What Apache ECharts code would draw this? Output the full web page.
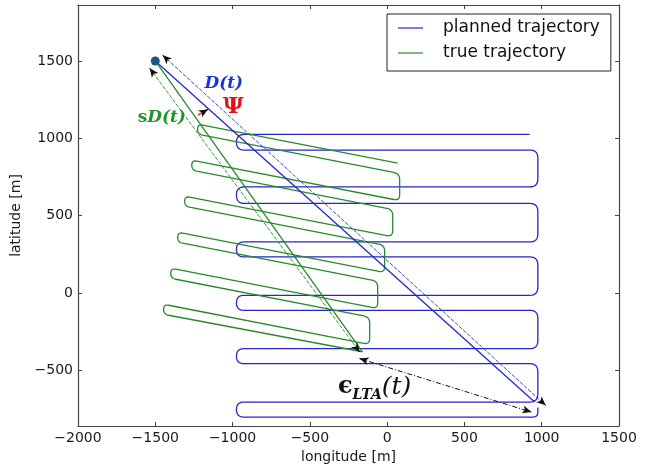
<!DOCTYPE html>
<html><head><meta charset="utf-8">
<script src="https://cdn.jsdelivr.net/npm/echarts@6/dist/echarts.min.js"></script>
<style>html,body{margin:0;padding:0;background:#fff}#c{width:652px;height:473px}</style>
</head><body><div id="c"></div>
<script>
// ---- data (metres) ----
const xTicks = [-2000, -1500, -1000, -500, 0, 500, 1000, 1500];
const yTicks = [-500, 0, 500, 1000, 1500];
const plannedX = [922, -975, -975, 975, 975, -975, -975, 975, 975, -975, -975, 975, 975, -975, -975, 975, 975, -975, -975, 975, 975, -975, -975, 975, 975];
const plannedY = [1025, 1025, 924, 924, 686, 686, 579, 579, 330, 330, 233, 233, -15, -15, -112, -112, -360, -360, -457, -457, -705, -705, -802, -802, -740];
const trueX = [68, -1226, -1226, 81, 81, -1264, -1264, 36, 36, -1310, -1310, -16, -16, -1355, -1355, -61, -61, -1400, -1400, -113, -113, -1446, -1446, -160];
const trueY = [840, 1092, 1027, 772, 597, 859, 794, 540, 364, 626, 561, 309, 132, 393, 328, 76, -101, 160, 95, -156, -333, -73, -138, -380];
const startPoint = [-1500, 1500];
const plannedNow = [954, -705];
const trueNow = [-160, -380];
const arrowD = [[-1452, 1537], [1025, -726]];
const arrowSD = [[-1536, 1453], [-178, -382]];
const arrowLTA = [[-178, -424], [933, -770]];
const arrowPsi = [[-1224, 1150], [-1160, 1187]];
const labelPos = { D: [-1057, 1357], Psi: [-995, 1205], sD: [-1458, 1131], LTA: [-81, -609] };

const BLUE = '#2626cc', GREEN = '#2a8a2a';
const minus = v => (v < 0 ? '\u2212' + Math.abs(v) : String(v));

function roundedTrajectory(xs, ys, radius, color, width) {
  return function (params, api) {
    if (params.dataIndex !== 0) return null;
    const pts = xs.map((x, i) => api.coord([x, ys[i]]));
    const out = [pts[0]];
    for (let i = 1; i < pts.length - 1; i++) {
      const P = pts[i - 1], V = pts[i], N = pts[i + 1];
      const d1 = Math.hypot(P[0] - V[0], P[1] - V[1]);
      const d2 = Math.hypot(N[0] - V[0], N[1] - V[1]);
      const r = Math.min(radius, d1 / 2, d2 / 2);
      const A = [V[0] + (P[0] - V[0]) / d1 * r, V[1] + (P[1] - V[1]) / d1 * r];
      const B = [V[0] + (N[0] - V[0]) / d2 * r, V[1] + (N[1] - V[1]) / d2 * r];
      for (let k = 0; k <= 8; k++) {
        const t = k / 8, a = (1 - t) * (1 - t), b = 2 * (1 - t) * t, c = t * t;
        out.push([a * A[0] + b * V[0] + c * B[0], a * A[1] + b * V[1] + c * B[1]]);
      }
    }
    out.push(pts[pts.length - 1]);
    return { type: 'polyline', silent: true, shape: { points: out },
      style: { stroke: color, fill: null, lineWidth: width, lineJoin: 'round' } };
  };
}

function head(seg, frac) {
  const a = seg[0], b = seg[1];
  return [b[0] - (b[0] - a[0]) * frac, b[1] - (b[1] - a[1]) * frac];
}
function tail(seg, frac) {
  const a = seg[0], b = seg[1];
  return [a[0] + (b[0] - a[0]) * frac, a[1] + (b[1] - a[1]) * frac];
}
const arrowSym = { symbol: 'arrow', symbolSize: [6, 9] };
function blackHead(from, to) {
  return [{ coord: from, symbol: 'none', lineStyle: { color: '#111', width: 1, type: 'solid' } },
          Object.assign({ coord: to }, arrowSym)];
}

const chart = echarts.init(document.getElementById('c'), null, { renderer: 'canvas' });
const axisCommon = {
  axisLine: { show: true, onZero: false, lineStyle: { color: '#444', width: 1.2 } },
  axisTick: { show: true, inside: true, length: 4, lineStyle: { color: '#444' } },
  splitLine: { show: false }
};
const tickFont = { fontFamily: 'DejaVu Sans', fontSize: 14, color: '#1a1a1a' };

chart.setOption({
  animation: false,
  backgroundColor: '#fff',
  grid: { left: 78, right: 33, top: 5, bottom: 47, containLabel: false },
  xAxis: [
    Object.assign({ type: 'value', position: 'bottom', min: -2000, max: 1500, interval: 500,
      name: 'longitude [m]', nameLocation: 'middle', nameGap: 24,
      nameTextStyle: { fontFamily: 'DejaVu Sans', fontSize: 14, color: '#1a1a1a' },
      axisLabel: Object.assign({ margin: 5, showMinLabel: true, showMaxLabel: true,
        formatter: v => minus(v) }, tickFont) }, axisCommon),
    Object.assign({ type: 'value', position: 'top', min: -2000, max: 1500, interval: 500,
      axisLabel: { show: false } }, axisCommon)
  ],
  yAxis: [
    Object.assign({ type: 'value', position: 'left', min: -860, max: 1862,
      name: 'latitude [m]', nameLocation: 'middle', nameGap: 46,
      nameTextStyle: { fontFamily: 'DejaVu Sans', fontSize: 14, color: '#1a1a1a' },
      axisLabel: Object.assign({ margin: 5, customValues: yTicks, formatter: v => minus(v) }, tickFont) },
      axisCommon, { axisTick: { show: true, inside: true, length: 4, customValues: yTicks, lineStyle: { color: '#444' } } }),
    Object.assign({ type: 'value', position: 'right', min: -860, max: 1862,
      axisLabel: { show: false } }, axisCommon,
      { axisTick: { show: true, inside: true, length: 4, customValues: yTicks, lineStyle: { color: '#444' } } })
  ],
  legend: {
    orient: 'vertical', left: 387, top: 14, padding: [4, 11, 8, 11], itemGap: 5,
    itemWidth: 25, itemHeight: 1.2, icon: 'rect', selectedMode: false,
    borderColor: '#222', borderWidth: 1, backgroundColor: '#fff',
    textStyle: { fontFamily: 'DejaVu Sans', fontSize: 17, color: '#111', lineHeight: 20, padding: [0, 0, 0, 15] },
    data: ['planned trajectory', 'true trajectory']
  },
  series: [
    { name: 'planned trajectory', type: 'custom', xAxisIndex: 0, yAxisIndex: 0,
      itemStyle: { color: BLUE }, encode: { x: 0, y: 1 },
      data: plannedX.map((x, i) => [x, plannedY[i]]),
      renderItem: roundedTrajectory(plannedX, plannedY, 8, BLUE, 1.3), z: 2 },
    { name: 'true trajectory', type: 'custom', xAxisIndex: 0, yAxisIndex: 0,
      itemStyle: { color: GREEN }, encode: { x: 0, y: 1 },
      data: trueX.map((x, i) => [x, trueY[i]]),
      renderItem: roundedTrajectory(trueX, trueY, 6, GREEN, 1.3), z: 2 },
    { name: 'D line', type: 'line', data: [startPoint, plannedNow], showSymbol: false, symbol: 'none',
      lineStyle: { color: BLUE, width: 1.3 }, z: 3, silent: true },
    { name: 'sD line', type: 'line', data: [startPoint, trueNow], showSymbol: false, symbol: 'none',
      lineStyle: { color: GREEN, width: 1.3 }, z: 3, silent: true },
    { name: 'start', type: 'scatter', data: [startPoint], symbolSize: 9,
      itemStyle: { color: '#1b5a7e', opacity: 1 }, z: 5, silent: true,
      markLine: {
        silent: true, animation: false, label: { show: false }, symbol: ['none', 'none'],
        data: [
          [{ coord: arrowD[0], lineStyle: { color: '#3030d0', width: 0.9, type: [4, 1.5] } }, { coord: arrowD[1] }],
          [{ coord: arrowSD[0], lineStyle: { color: '#2a8a2a', width: 0.9, type: [4, 1.5] } }, { coord: arrowSD[1] }],
          [{ coord: arrowLTA[0], lineStyle: { color: '#111', width: 1, type: [5, 2, 1, 2] } }, { coord: arrowLTA[1] }],
          [{ coord: arrowPsi[0], lineStyle: { color: '#e0202a', width: 1.3, type: 'solid' } }, { coord: arrowPsi[1] }],
          blackHead(head(arrowD, 0.012), arrowD[1]),
          blackHead(tail(arrowD, 0.012), arrowD[0]),
          blackHead(head(arrowSD, 0.018), arrowSD[1]),
          blackHead(tail(arrowSD, 0.018), arrowSD[0]),
          blackHead(head(arrowLTA, 0.03), arrowLTA[1]),
          blackHead(tail(arrowLTA, 0.03), arrowLTA[0]),
          blackHead(head(arrowPsi, 0.3), arrowPsi[1])
        ]
      } },
    { name: 'labels', type: 'scatter', symbolSize: 0, silent: true, z: 6,
      itemStyle: { opacity: 1 },
      data: [
        { value: labelPos.D, label: { show: true, position: 'inside', formatter: '{a|D(t)}',
          rich: { a: { fontFamily: 'DejaVu Serif', fontStyle: 'italic', fontWeight: 'bold', fontSize: 17, color: '#1f32d8' } } } },
        { value: labelPos.Psi, label: { show: true, position: 'inside', formatter: '{a|Ψ}',
          rich: { a: { fontFamily: 'DejaVu Serif', fontWeight: 'bold', fontSize: 23, color: '#e8101a' } } } },
        { value: labelPos.sD, label: { show: true, position: 'inside', formatter: '{s|s}{a|D(t)}',
          rich: { s: { fontFamily: 'DejaVu Serif', fontWeight: 'bold', fontSize: 17, color: '#22952a' },
                  a: { fontFamily: 'DejaVu Serif', fontStyle: 'italic', fontWeight: 'bold', fontSize: 17, color: '#22952a' } } } },
        { value: labelPos.LTA, label: { show: true, position: 'inside', formatter: '{e|ϵ}{s|LTA}{p|(t)}',
          rich: { e: { fontFamily: 'DejaVu Serif', fontWeight: 'bold', fontSize: 24, color: '#111', lineHeight: 30 },
                  s: { fontFamily: 'DejaVu Serif', fontStyle: 'italic', fontWeight: 'bold', fontSize: 14, color: '#111', verticalAlign: 'bottom', lineHeight: 16 },
                  p: { fontFamily: 'DejaVu Serif', fontStyle: 'italic', fontSize: 25, color: '#111', lineHeight: 30 } } } }
      ] }
  ]
});
</script></body></html>
